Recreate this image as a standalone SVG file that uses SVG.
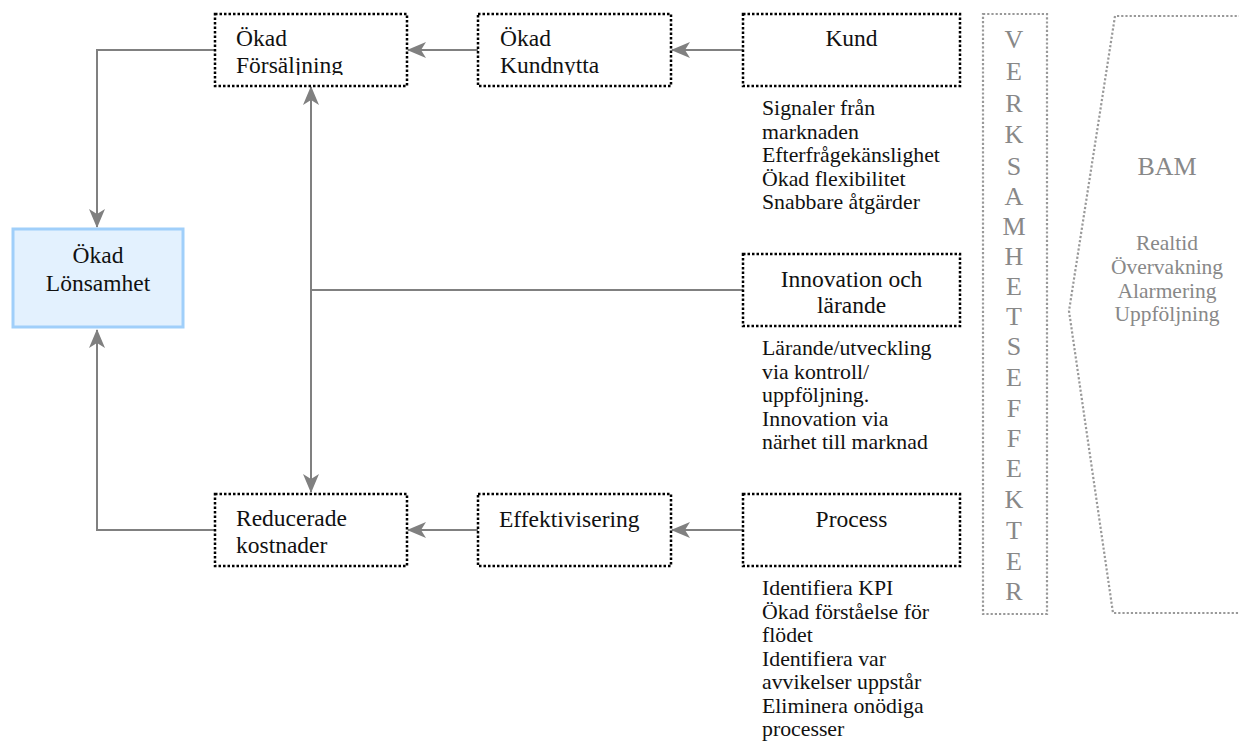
<svg xmlns="http://www.w3.org/2000/svg" width="1239" height="747" viewBox="0 0 1239 747">
<style>
.node{fill:#fff;stroke:#000;stroke-width:2.5;stroke-dasharray:2.5 2}
.main{fill:#E3F1FE;stroke:#A0CFFA;stroke-width:3}
.gbox{fill:none;stroke:#999;stroke-width:2.2;stroke-dasharray:2.2 2}
.t{font-family:"Liberation Serif","Times New Roman",serif;font-size:23.5px;fill:#111}
.c{text-anchor:middle}
.d{font-family:"Liberation Serif","Times New Roman",serif;font-size:21.8px;fill:#111}
.v{font-family:"Liberation Serif","Times New Roman",serif;font-size:26px;fill:#888;text-anchor:middle}
.bam{font-family:"Liberation Serif","Times New Roman",serif;font-size:26px;fill:#888;text-anchor:middle}
.bi{font-family:"Liberation Serif","Times New Roman",serif;font-size:21.5px;fill:#888;text-anchor:middle}
.e{fill:none;stroke:#808080;stroke-width:2}
</style>
<defs>
<marker id="arr" markerUnits="userSpaceOnUse" markerWidth="20" markerHeight="16" viewBox="0 0 20 16" refX="18" refY="8" orient="auto">
<path d="M0,0 L19,8 L0,16 L5,8 Z" fill="#808080"/>
</marker>
<clipPath id="clipF"><rect x="215" y="14" width="192" height="61"/></clipPath>
<clipPath id="clipK"><rect x="478" y="14" width="193" height="61"/></clipPath>
</defs>
<rect width="1239" height="747" fill="#fff"/>

<g id="connectors">
<path class="e" d="M215,50 H97 V227" marker-end="url(#arr)"/>
<path class="e" d="M478,50 H408" marker-end="url(#arr)"/>
<path class="e" d="M743,50 H672" marker-end="url(#arr)"/>
<path class="e" d="M743,290 H311"/>
<path class="e" d="M311,290 V87" marker-end="url(#arr)"/>
<path class="e" d="M311,290 V492" marker-end="url(#arr)"/>
<path class="e" d="M215,530 H97 V330" marker-end="url(#arr)"/>
<path class="e" d="M478,530 H408" marker-end="url(#arr)"/>
<path class="e" d="M743,530 H672" marker-end="url(#arr)"/>
</g>

<g id="okad-forsaljning">
<rect class="node" x="215" y="14" width="192" height="72"/>
<g clip-path="url(#clipF)">
<text class="t" x="236" y="46">Ökad</text>
<text class="t" x="236" y="73">Försäljning</text>
</g>
</g>

<g id="okad-kundnytta">
<rect class="node" x="478" y="14" width="193" height="72"/>
<g clip-path="url(#clipK)">
<text class="t" x="500" y="46">Ökad</text>
<text class="t" x="500" y="73">Kundnytta</text>
</g>
</g>

<g id="kund">
<rect class="node" x="743" y="14" width="217" height="72"/>
<text class="t c" x="851.5" y="46">Kund</text>
<text class="d" x="762" y="115">Signaler från</text>
<text class="d" x="762" y="138.5">marknaden</text>
<text class="d" x="762" y="162">Efterfrågekänslighet</text>
<text class="d" x="762" y="185.5">Ökad flexibilitet</text>
<text class="d" x="762" y="209">Snabbare åtgärder</text>
</g>

<g id="okad-lonsamhet">
<rect class="main" x="13" y="229" width="170" height="98"/>
<text class="t c" x="98" y="263">Ökad</text>
<text class="t c" x="98" y="291">Lönsamhet</text>
</g>

<g id="innovation">
<rect class="node" x="743" y="254" width="217" height="72"/>
<text class="t c" x="851.5" y="287">Innovation och</text>
<text class="t c" x="851.5" y="313">lärande</text>
<text class="d" x="762" y="355">Lärande/utveckling</text>
<text class="d" x="762" y="378.5">via kontroll/</text>
<text class="d" x="762" y="402">uppföljning.</text>
<text class="d" x="762" y="425.5">Innovation via</text>
<text class="d" x="762" y="449">närhet till marknad</text>
</g>

<g id="reducerade-kostnader">
<rect class="node" x="215" y="494" width="192" height="72"/>
<text class="t" x="236" y="526">Reducerade</text>
<text class="t" x="236" y="553">kostnader</text>
</g>

<g id="effektivisering">
<rect class="node" x="478" y="494" width="193" height="72"/>
<text class="t" x="499" y="527">Effektivisering</text>
</g>

<g id="process">
<rect class="node" x="743" y="494" width="217" height="72"/>
<text class="t c" x="851.5" y="527">Process</text>
<text class="d" x="762" y="595">Identifiera KPI</text>
<text class="d" x="762" y="618.5">Ökad förståelse för</text>
<text class="d" x="762" y="642">flödet</text>
<text class="d" x="762" y="665.5">Identifiera var</text>
<text class="d" x="762" y="689">avvikelser uppstår</text>
<text class="d" x="762" y="712.5">Eliminera onödiga</text>
<text class="d" x="762" y="736">processer</text>
</g>

<g id="verksamhetseffekter">
<rect class="gbox" x="983" y="14" width="64" height="600"/>
<text class="v" x="1014" y="48">V</text>
<text class="v" x="1014" y="80">E</text>
<text class="v" x="1014" y="112">R</text>
<text class="v" x="1014" y="143">K</text>
<text class="v" x="1014" y="175">S</text>
<text class="v" x="1014" y="205">A</text>
<text class="v" x="1014" y="235">M</text>
<text class="v" x="1014" y="265">H</text>
<text class="v" x="1014" y="295">E</text>
<text class="v" x="1014" y="325">T</text>
<text class="v" x="1014" y="355">S</text>
<text class="v" x="1014" y="386">E</text>
<text class="v" x="1014" y="417">F</text>
<text class="v" x="1014" y="447">F</text>
<text class="v" x="1014" y="477">E</text>
<text class="v" x="1014" y="508">K</text>
<text class="v" x="1014" y="539">T</text>
<text class="v" x="1014" y="570">E</text>
<text class="v" x="1014" y="600">R</text>
</g>

<g id="bam">
<path class="gbox" d="M1241,16 H1115 L1069,311 L1113,613 H1241"/>
<text class="bam" x="1167" y="175">BAM</text>
<text class="bi" x="1167" y="250">Realtid</text>
<text class="bi" x="1167" y="274">Övervakning</text>
<text class="bi" x="1167" y="298">Alarmering</text>
<text class="bi" x="1167" y="321">Uppföljning</text>
</g>
</svg>
